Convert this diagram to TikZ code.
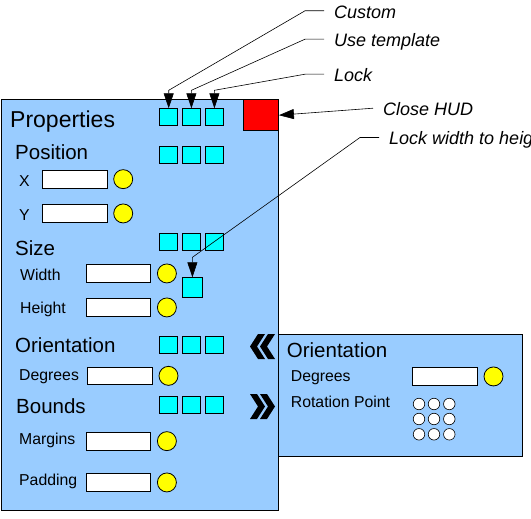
\documentclass[tikz,border=0pt]{standalone}
\usepackage{fontspec}
\setmainfont{Liberation Sans}
\usetikzlibrary{arrows.meta, positioning}
\definecolor{hudblue}{HTML}{99CCFF}
\definecolor{togglecyan}{RGB}{0,255,255}
\definecolor{knobyellow}{RGB}{255,255,0}
\definecolor{closered}{RGB}{255,0,0}
\tikzset{panel/.style={draw, fill=hudblue, line width=0.9pt, inner sep=0pt, anchor=north west},
  hudtitle/.style={anchor=base west, inner sep=0pt, font=\fontsize{23}{27}\selectfont},
  hudheading/.style={anchor=base west, inner sep=0pt, font=\fontsize{20.5}{24}\selectfont},
  fieldname/.style={anchor=base west, inner sep=0pt, font=\fontsize{15.8}{19}\selectfont},
  field/.style={draw, fill=white, line width=0.8pt, minimum width=64.5pt, minimum height=17.5pt, inner sep=0pt, anchor=north west},
  knob/.style={circle, draw, fill=knobyellow, line width=0.8pt, minimum size=19pt, inner sep=0pt},
  toggle/.style={draw, fill=togglecyan, line width=0.8pt, minimum width=18pt, minimum height=17pt, inner sep=0pt, anchor=north west},
  pivot/.style={circle, draw, fill=white, line width=0.6pt, minimum size=11.5pt, inner sep=0pt},
  calloutlabel/.style={anchor=base west, inner xsep=10pt, inner ysep=0pt, text height=15pt, text depth=0pt, font=\itshape\fontsize{18}{22}\selectfont},
  pointer/.style={-{Triangle[length=15pt, width=10pt]}, line width=0.6pt}
}
\begin{document}
\begin{tikzpicture}[x=1pt, y=-1pt]
  \useasboundingbox (0,0) rectangle (531,519);
  % Panels
  \node[panel, minimum width=277pt, minimum height=410.5pt] (hud) at (0.5,99.5) {};
  \node[panel, minimum width=244pt, minimum height=122.5pt] (orientpanel) at (277.5,333.5) {};
  \node[panel, fill=closered, minimum width=35pt, minimum height=30.5pt] (hide) at (243,99.5) {};
  % Toggle buttons
  \foreach \row/\y in {top/108.3, pos/146, size/233.3, orient/336, bounds/396}
    \foreach \col/\x in {1/159.3, 2/182, 3/205}
      \node[toggle] (\row\col) at (\x,\y) {};
  \node[toggle, minimum width=20pt, minimum height=20pt] (lockwh) at (182,277.3) {};
  % Properties
  \node[hudtitle] (properties) at (10,127.3) {Properties};
  \node[hudheading] (position) at (15,159.3) {Position};
  \node[fieldname] (xname) at (19,186) {X};
  \node[field] (xfield) at (42,170) {};
  \node[knob, right=6pt of xfield] (xknob) {};
  \node[fieldname] (yname) at (19,220) {Y};
  \node[field] (yfield) at (42,204.3) {};
  \node[knob, right=6pt of yfield] (yknob) {};
  % Size
  \node[hudheading] (size) at (15,255) {Size};
  \node[fieldname] (wname) at (20,280) {Width};
  \node[field] (wfield) at (85.7,264.3) {};
  \node[knob, right=6pt of wfield] (wknob) {};
  \node[fieldname] (hname) at (20,313.3) {Height};
  \node[field] (hfield) at (85.7,298.3) {};
  \node[knob, right=6pt of hfield] (hknob) {};
  % Orientation
  \node[hudheading] (orientation) at (15,352.7) {Orientation};
  \node[fieldname] (dname) at (19,380) {Degrees};
  \node[field] (dfield) at (87.3,366.7) {};
  \node[knob, right=6pt of dfield] (dknob) {};
  % Bounds
  \node[hudheading] (bounds) at (16,413.3) {Bounds};
  \node[fieldname] (mname) at (19,444) {Margins};
  \node[field] (mfield) at (85.7,432) {};
  \node[knob, right=6pt of mfield] (mknob) {};
  \node[fieldname] (pname) at (19,485) {Padding};
  \node[field] (pfield) at (85.7,473.3) {};
  \node[knob, right=6pt of pfield] (pknob) {};
  % Orientation panel
  \node[hudheading] (orienttitle) at (286.7,357.3) {Orientation};
  \node[fieldname] (degname) at (290.7,381) {Degrees};
  \node[field] (degfield) at (412.3,367.3) {};
  \node[knob, right=6pt of degfield] (degknob) {};
  \node[fieldname] (rotname) at (290.7,407.3) {Rotation Point};
  \foreach \i/\x in {1/419, 2/434, 3/449.3}
    \foreach \j/\y in {1/404, 2/419, 3/434.3}
      \node[pivot] (pt\i\j) at (\x,\y) {};
  % Chevrons
  \foreach \dx in {0,10} {
    \fill (250+\dx,346.5) -- ++(8,-12.5) -- ++(7,0) -- ++(-8,12.5) -- ++(8,12.5) -- ++(-7,0) -- cycle;
    \fill (275-\dx,406.5) -- ++(-8,-12.5) -- ++(-7,0) -- ++(8,12.5) -- ++(-8,12.5) -- ++(7,0) -- cycle;
  }
  % Callouts
  \node[calloutlabel] (custom) at (324,18.3) {Custom};
  \node[calloutlabel] (template) at (324,46.7) {Use template};
  \node[calloutlabel] (lock) at (324,81.7) {Lock};
  \node[calloutlabel] (close) at (373,115.7) {Close HUD};
  \node[calloutlabel] (lockratio) at (379,145) {Lock width to height};
  \draw[pointer] (custom.west) -- ++(-19,0) -- ([yshift=18pt]top1.north) -- (top1.north);
  \draw[pointer] (template.west) -- ++(-19,0) -- ([yshift=18pt]top2.north) -- (top2.north);
  \draw[pointer] (lock.west) -- ++(-19,0) -- ([yshift=18pt]top3.north) -- (top3.north);
  \draw[pointer] (close.west) -- (hide.east);
  \draw[pointer] (lockratio.west) -- ++(-19,0) -- ([yshift=20pt]lockwh.north) -- (lockwh.north);
\end{tikzpicture}
\end{document}
